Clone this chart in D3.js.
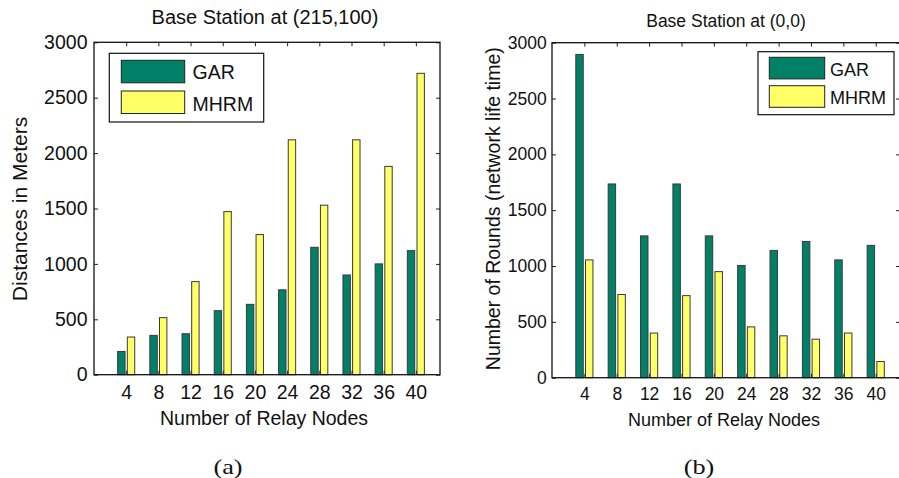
<!DOCTYPE html>
<html>
<head>
<meta charset="utf-8">
<script src="https://cdn.jsdelivr.net/npm/d3@7"></script>
<style>
  body { margin: 0; background: #fff; }
  svg { display: block; font-family: "Liberation Sans", Arial, sans-serif; }
</style>
</head>
<body>
<div id="chart"></div>
<script>
// data
var relayNodes = [4, 8, 12, 16, 20, 24, 28, 32, 36, 40];
var seriesNames = ["GAR", "MHRM"];
var seriesColors = ["#008066", "#ffff66"];
var yTicks = [0, 500, 1000, 1500, 2000, 2500, 3000];

// (a) distances, base station at (215,100)
var distGAR = [210, 355, 370, 578, 635, 766, 1150, 900, 1000, 1120];
var distMHRM = [340, 515, 840, 1472, 1265, 2120, 1530, 2120, 1880, 2720];

// (b) network life time, base station at (0,0)
var roundsGAR = [2895, 1735, 1270, 1735, 1270, 1005, 1140, 1220, 1055, 1185];
var roundsMHRM = [1055, 745, 400, 735, 950, 455, 375, 345, 400, 145];

var svg = d3.select("#chart").append("svg")
    .attr("width", 899)
    .attr("height", 478);

function drawPanel(cfg) {
    var x = d3.scaleLinear().domain([0, 43]).range([cfg.left, cfg.right]);
    var y = d3.scaleLinear().domain([0, 3000]).range([cfg.bottom, cfg.top]);
    var g = svg.append("g");

    // bars
    var bw = x(0.92) - x(0), gap = x(0.14) - x(0);
    var series = [cfg.gar, cfg.mhrm];
    series.forEach(function (vals, s) {
        g.selectAll(null)
            .data(vals)
            .enter().append("rect")
            .attr("x", function (d, i) { return s === 0 ? x(relayNodes[i]) - gap - bw : x(relayNodes[i]) + gap; })
            .attr("y", function (d) { return y(d); })
            .attr("width", bw)
            .attr("height", function (d) { return y(0) - y(d); })
            .attr("fill", seriesColors[s])
            .attr("stroke", "#3a3a3a")
            .attr("stroke-width", 1);
    });

    // axes, ticks pointing inward
    var axB = g.append("g")
        .attr("transform", "translate(0," + cfg.bottom + ")")
        .call(d3.axisBottom(x).tickValues(relayNodes).tickFormat(d3.format("d"))
            .tickSizeInner(-4).tickSizeOuter(0).tickPadding(cfg.xPad));
    var axL = g.append("g")
        .attr("transform", "translate(" + cfg.left + ",0)")
        .call(d3.axisLeft(y).tickValues(yTicks).tickFormat(d3.format("d"))
            .tickSizeInner(-4).tickSizeOuter(0).tickPadding(cfg.yPad));
    var axT = g.append("g")
        .attr("transform", "translate(0," + cfg.top + ")")
        .call(d3.axisTop(x).tickValues(relayNodes).tickSizeInner(-4).tickSizeOuter(0).tickFormat(""));
    var axR = g.append("g")
        .attr("transform", "translate(" + cfg.right + ",0)")
        .call(d3.axisRight(y).tickValues(yTicks).tickSizeInner(-4).tickSizeOuter(0).tickFormat(""));

    [axB, axL, axT, axR].forEach(function (a) {
        a.select(".domain").remove();
        a.selectAll(".tick line").attr("stroke", "#222");
        a.selectAll("text")
            .attr("fill", "#111")
            .style("font-family", "'Liberation Sans', Arial, sans-serif")
            .style("font-size", cfg.tickFont + "px");
    });

    // frame
    g.append("rect")
        .attr("x", cfg.left).attr("y", cfg.top)
        .attr("width", cfg.right - cfg.left)
        .attr("height", cfg.bottom - cfg.top)
        .attr("fill", "none")
        .attr("stroke", "#111")
        .attr("stroke-width", 1.3);

    // title
    g.append("text")
        .attr("x", cfg.titleX).attr("y", cfg.titleY)
        .attr("text-anchor", "middle")
        .style("font-size", cfg.titleFont + "px")
        .attr("fill", "#111")
        .text(cfg.title);

    // x label
    g.append("text")
        .attr("x", cfg.xLabelX).attr("y", cfg.xLabelY)
        .attr("text-anchor", "middle")
        .style("font-size", cfg.xLabelFont + "px")
        .attr("fill", "#111")
        .text("Number of Relay Nodes");

    // y label
    g.append("text")
        .attr("transform", "translate(" + cfg.yLabelX + "," + cfg.yLabelY + ") rotate(-90)")
        .attr("text-anchor", "middle")
        .style("font-size", cfg.yLabelFont + "px")
        .attr("fill", "#111")
        .text(cfg.yLabel);

    // legend
    var L = cfg.legend;
    g.append("rect")
        .attr("x", L.x0).attr("y", L.y0)
        .attr("width", L.x1 - L.x0).attr("height", L.y1 - L.y0)
        .attr("fill", "#fff").attr("stroke", "#111").attr("stroke-width", 1.2);
    seriesNames.forEach(function (name, s) {
        g.append("rect")
            .attr("x", L.sx0).attr("y", L.sy[s])
            .attr("width", L.sx1 - L.sx0).attr("height", L.sh)
            .attr("fill", seriesColors[s])
            .attr("stroke", "#222").attr("stroke-width", 1);
        g.append("text")
            .attr("x", L.tx).attr("y", L.ty[s])
            .style("font-size", L.font + "px")
            .attr("fill", "#111")
            .text(name);
    });

    // caption
    svg.append("text")
        .attr("transform", "translate(" + cfg.capX + ",474) scale(1.25,1)")
        .attr("text-anchor", "middle")
        .style("font-family", "'Liberation Serif', 'Times New Roman', serif")
        .style("font-size", "21px")
        .attr("fill", "#111")
        .text(cfg.caption);
}

drawPanel({
    left: 94, right: 440, top: 42.3, bottom: 374.7,
    gar: distGAR, mhrm: distMHRM,
    xPad: 10.5, yPad: 6.5, tickFont: 19.5,
    title: "Base Station at (215,100)", titleX: 265, titleY: 24, titleFont: 20,
    xLabelX: 264, xLabelY: 425, xLabelFont: 19.5,
    yLabel: "Distances in Meters", yLabelX: 27, yLabelY: 209, yLabelFont: 21,
    legend: { x0: 109.3, x1: 263.7, y0: 53.3, y1: 122, sx0: 121.3, sx1: 184.7,
              sy: [60.3, 91], sh: 22.5, tx: 192.5, ty: [79, 110.7], font: 19.5 },
    caption: "(a)", capX: 228
});

drawPanel({
    left: 552, right: 900, top: 42.7, bottom: 377.7,
    gar: roundsGAR, mhrm: roundsMHRM,
    xPad: 10, yPad: 5.3, tickFont: 17.5,
    title: "Base Station at (0,0)", titleX: 726, titleY: 26.5, titleFont: 17.5,
    xLabelX: 724, xLabelY: 426, xLabelFont: 18,
    yLabel: "Number of Rounds (network life time)", yLabelX: 500, yLabelY: 208.7, yLabelFont: 19.5,
    legend: { x0: 758, x1: 894, y0: 51.7, y1: 114.7, sx0: 769.3, sx1: 824.7,
              sy: [57.3, 85.7], sh: 21.6, tx: 830, ty: [76, 104.3], font: 18 },
    caption: "(b)", capX: 699
});
</script>
</body>
</html>
